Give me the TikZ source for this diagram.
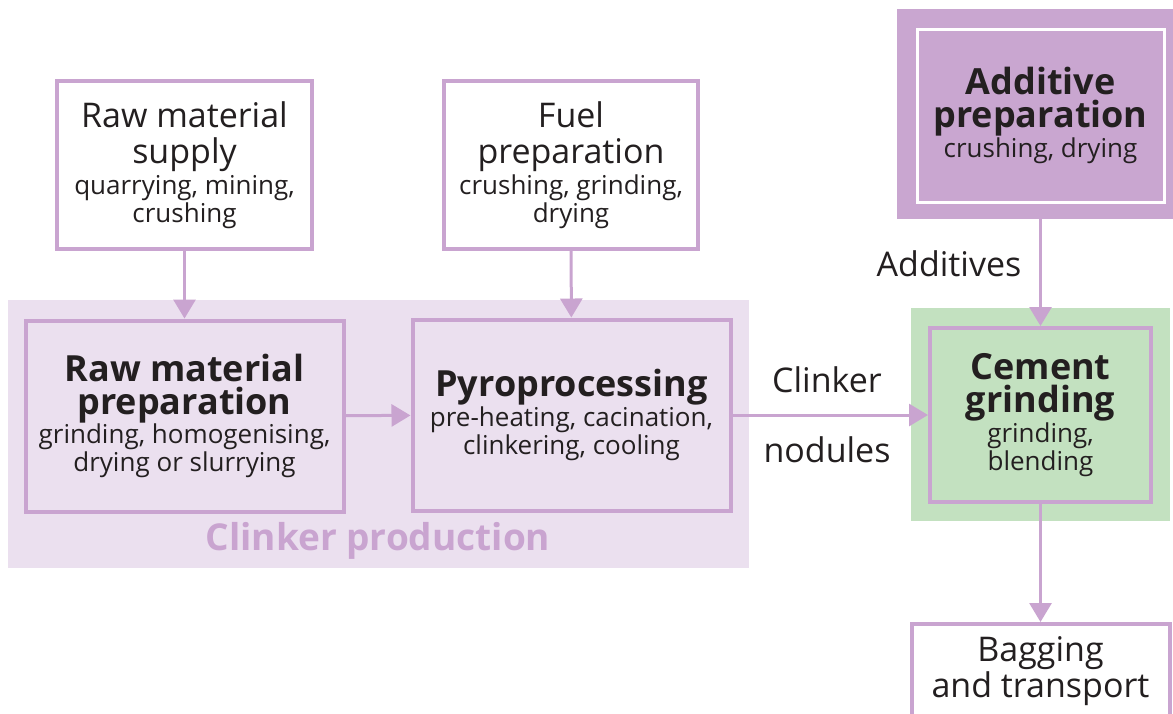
\documentclass[tikz,border=0pt]{standalone}
\usepackage{fontspec}
\setmainfont{Open Sans}
\usetikzlibrary{arrows.meta}
\definecolor{lilac}{HTML}{C9A4D0}
\definecolor{lilacbg}{HTML}{EBE0EF}
\definecolor{addfill}{HTML}{C9A6D0}
\definecolor{greenbg}{HTML}{C3E1C0}
\definecolor{ink}{HTML}{231F20}
\newcommand\mainfnt{\fontsize{34}{36}\selectfont\spaceskip=0.26em\relax}
\newcommand\headfnt{\fontsize{36}{33}\selectfont\bfseries\spaceskip=0.26em\relax}
\newcommand\subfnt{\fontsize{26}{28}\selectfont\spaceskip=0.26em\relax}
\begin{document}
\begin{tikzpicture}[x=1pt,y=-1pt,
  box/.style={draw=lilac, line width=4pt, fill=#1, align=center, text=ink, inner sep=0pt},
  box/.default=white,
  arr/.style={draw=lilac, line width=3pt, -{Triangle[length=19pt,width=22pt]}},
  lbl/.style={text=ink, font=\mainfnt, inner sep=0pt},
  area/.style={fill=#1, draw=none, inner sep=0pt}]
\useasboundingbox (0,0) rectangle (1173,713);
% backgrounds
\node[area=lilacbg, minimum width=741, minimum height=268] (clinkerbg) at (378,434) {};
\node[area=greenbg, minimum width=259, minimum height=213] (greenbg) at (1040.5,414.5) {};
\node[area=addfill, minimum width=290, minimum height=210, anchor=north west] (addbg) at (897,9) {};
% boxes
\node[box, minimum width=255, minimum height=168, text width=250] (rawsup) at (184.5,165)
  {{\mainfnt Raw material\\supply\par}\vspace{3pt}{\subfnt quarrying, mining,\\crushing\par}};
\node[box, minimum width=254, minimum height=168, text width=250] (fuel) at (571,165)
  {{\mainfnt Fuel\\preparation\par}\vspace{3pt}{\subfnt crushing, grinding,\\drying\par}};
\node[box=lilacbg, minimum width=318, minimum height=191, text width=314] (rawprep) at (184.5,416)
  {{\headfnt Raw material\\preparation\par}{\subfnt grinding, homogenising,\\drying or slurrying\par}};
\node[box=lilacbg, minimum width=318, minimum height=191, text width=314] (pyro) at (571.5,415)
  {{\headfnt Pyroprocessing\par}\vspace{1pt}{\subfnt pre-heating, cacination,\\clinkering, cooling\par}};
\node[box=greenbg, minimum width=221, minimum height=174, text width=217] (cement) at (1040.5,415)
  {{\headfnt Cement\\grinding\par}\vspace{1pt}{\subfnt grinding,\\blending\par}};
\node[box=addfill, draw=white, line width=3pt, minimum width=247, minimum height=173, text width=243] (addprep) at (1040.5,115.5)
  {{\headfnt Additive\\preparation\par}\vspace{1pt}{\subfnt crushing, drying\par}};
\node[box, anchor=north, minimum width=258, minimum height=130] (bag) at (1040.5,622) {};
\node[lbl, align=center] (bagtext) at (1040.5,671) {Bagging\\and transport};
% labels
\node[inner sep=0pt, text=lilac, font=\fontsize{37}{37}\selectfont\bfseries] (clinkerprod) at (378,541) {Clinker production};
\node[lbl] (clinkerlbl) at (827,380) {Clinker};
\node[lbl] (noduleslbl) at (827,450) {nodules};
\node[lbl] (addlbl) at (949,264) {Additives};
% connectors
\draw[arr] (rawsup) -- (rawprep);
\draw[arr] (fuel) -- (pyro);
\draw[arr] (rawprep) -- (pyro);
\draw[arr] (pyro) -- (cement);
\draw[arr] (addbg.south -| cement.north) -- (cement.north);
\draw[arr] (cement) -- (bag);
\end{tikzpicture}
\end{document}
